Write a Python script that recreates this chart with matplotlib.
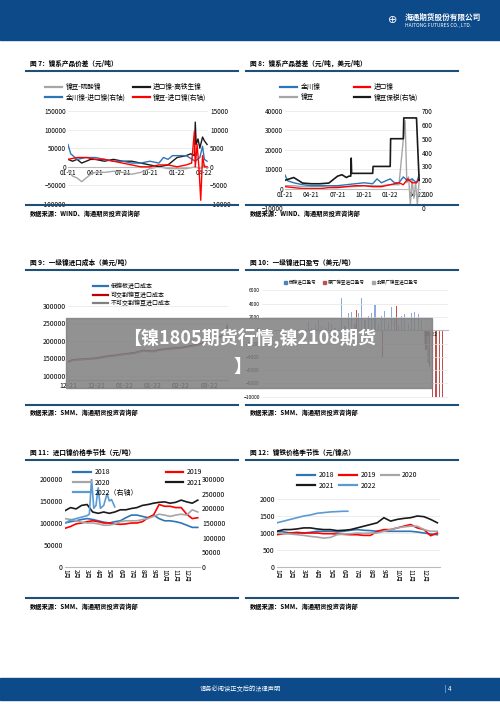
import matplotlib
matplotlib.use("Agg")
import matplotlib.pyplot as plt
from matplotlib.lines import Line2D
from matplotlib.patches import Rectangle

plt.rcParams['font.family'] = ['Noto Sans CJK SC', 'DejaVu Sans']
W, H = 500, 707
fig = plt.figure(figsize=(5, 7.07), dpi=100)
NAVY = '#1f4e79'

def box(x0, y0, x1, y1):
    return fig.add_axes([x0 / W, 1 - y1 / H, (x1 - x0) / W, (y1 - y0) / H])

def ftxt(x, y, s, **k):
    fig.text(x / W, 1 - y / H, s, **k)

def hline(x0, x1, y, lw=1.5, c=NAVY):
    fig.add_artist(Line2D([x0 / W, x1 / W], [1 - y / H, 1 - y / H], color=c, lw=lw))

def style(ax, fs=4.6):
    for s in ['top', 'right', 'left']:
        ax.spines[s].set_visible(False)
    ax.spines['bottom'].set_color('#bbbbbb')
    ax.tick_params(labelsize=fs, length=0, pad=1.5)
    ax.set_facecolor('none')

def legend(x, y, items, ncol, fs=4.5, colsp=2.0):
    n = len(items)
    nrow = -(-n // ncol)
    order = [r * ncol + c for c in range(ncol) for r in range(nrow) if r * ncol + c < n]
    items = [items[i] for i in order]
    hs = [Line2D([], [], color=c, lw=1.6) for _, c in items]
    fig.legend(hs, [n for n, _ in items], loc='upper left', bbox_to_anchor=(x / W, 1 - y / H),
               ncol=ncol, fontsize=fs, frameon=False, handlelength=2.5, columnspacing=colsp,
               handletextpad=0.5, labelspacing=0.3, borderpad=0)

# ---------------- header / footer ----------------
fig.add_artist(Rectangle((0, 1 - 40 / H), 1, 40 / H, color='#0d4a8a', transform=fig.transFigure))
ftxt(405, 17, '海通期货股份有限公司', fontsize=5.5, color='white', weight='bold', va='center')
ftxt(405, 25, 'HAITONG FUTURES CO., LTD.', fontsize=3.5, color='white', va='center')
ftxt(393, 20, '⊕', fontsize=8, color='white', va='center', ha='center', family='DejaVu Sans')
fig.add_artist(Rectangle((0, 1 - 700 / H), 1, 22 / H, color='#0d4a8a', transform=fig.transFigure))
ftxt(200, 689, '请务必阅读正文后的法律声明', fontsize=4.5, color='white', va='center')
ftxt(445, 689, '| 4', fontsize=4.5, color='white', va='center')

# ---------------- titles / source lines ----------------
titles = [(30, 63, '图 7：镍系产品价差（元/吨）'), (250, 63, '图 8：镍系产品基差（元/吨，美元/吨）'),
          (30, 262, '图 9：一级镍进口成本（美元/吨）'), (250, 262, '图 10：一级镍进口盈亏（美元/吨）'),
          (30, 452, '图 11：进口镍价格季节性（元/吨）'), (250, 452, '图 12：镍铁价格季节性（元/镍点）')]
for x, y, t in titles:
    ftxt(x, y, t, fontsize=4.8, va='center', weight='bold')
    hline(x - 4, x + 208, y + 8)
src = '数据来源：WIND、海通期货投资咨询部'
src2 = '数据来源：SMM、海通期货投资咨询部'
for x, y, s in [(30, 213, src), (250, 213, src), (30, 413, src2), (250, 413, src2), (30, 606, src2), (250, 606, src2)]:
    hline(x - 4, x + 208, y - 8)
    ftxt(x, y, s, fontsize=4.5, va='center', weight='bold')

# ---------------- Fig 7 ----------------
m7_gray = [0, 0.5, 1, 1.5, 2, 2.5, 3, 3.5, 4, 5, 6, 7, 8, 9, 10, 11, 12, 13, 14, 14.5, 15, 15.3]
v7_gray = [-10000, -25000, -30000, -40000, -30000, -20000, -15000, -15000, -15000, -12000, -15000, -20000,
           -15000, -5000, 0, -5000, -5000, -5000, 0, -5000, 5000, -5000]
m7_black = [0, 0.5, 1, 1.5, 2, 2.5, 3, 4, 5, 6, 7, 8, 9, 10, 11, 11.5, 12, 13, 13.5, 13.9, 14.0, 14.1, 14.3, 14.5, 14.8, 15, 15.3]
v7_black = [20000, 15000, 20000, 10000, 15000, 20000, 20000, 15000, 20000, 15000, 15000, 10000, 5000, 0, 5000, 15000,
            25000, 30000, 35000, 30000, 120000, 60000, 75000, 50000, 80000, 70000, 60000]
m7_blue = [0, 0.3, 1, 2, 3, 4, 5, 6, 7, 8, 9, 10, 10.5, 11, 11.5, 12, 13, 14, 14.5, 14.8, 15, 15.3]
v7_blue = [6000, 3500, 2000, 2500, 2500, 2000, 1500, 1500, 1000, 1000, 1500, 1000, 2500, 2000, 3000, 3000, 3000, 1500, 2500, 5500, 2000, 1500]
m7_red = [0, 1, 2, 3, 4, 5, 6, 7, 8, 9, 10, 11, 12, 13, 13.6, 13.9, 14.0, 14.2, 14.4, 14.6, 14.8, 15, 15.3]
v7_red = [2000, 2500, 2500, 2000, 2000, 1500, 1000, 500, 0, 0, 500, 500, 0, 500, 1000, 9500, 0, 6000, 0, -9000, 3000, 0, 0]
ax = box(68, 111, 208, 204)
style(ax)
ax.plot(m7_gray, v7_gray, color='#a6a6a6', lw=1)
ax.plot(m7_black, v7_black, color='#1a1a1a', lw=1)
ax.set_ylim(-100000, 150000); ax.set_yticks(range(-100000, 150001, 50000))
ax.grid(axis='y', color='#e6e6e6', lw=0.5)
ax.spines['bottom'].set_position(('data', 0))
ax.set_xlim(0, 15.4); ax.set_xticks([0, 3, 6, 9, 12, 15])
ax.set_xticklabels(['01-21', '04-21', '07-21', '10-21', '01-22', '04-22'])
ax2 = ax.twinx(); style(ax2); ax2.spines['bottom'].set_visible(False)
ax2.plot(m7_blue, v7_blue, color='#2e75b6', lw=1)
ax2.plot(m7_red, v7_red, color='#ff0000', lw=1)
ax2.set_ylim(-10000, 15000); ax2.set_yticks(range(-10000, 15001, 5000))
legend(42, 80, [('镍豆-硫酸镍', '#a6a6a6'), ('进口镍-高铁生镍', '#1a1a1a'),
                ('金川镍-进口镍(右轴)', '#2e75b6'), ('镍豆-进口镍(右轴)', '#ff0000')], 2, fs=4.8, colsp=1.2)

# ---------------- Fig 8 ----------------
m8_blue = [0, 0.3, 1, 2, 3, 4, 5, 6, 7, 8, 9, 10, 10.5, 11, 12, 12.5, 13, 13.5, 14, 14.5, 15, 15.3]
v8_blue = [7000, 4000, 3000, 2000, 1500, 1500, 1500, 1500, 2000, 2500, 3000, 2500, 5000, 3000, 5000, 3000, 3000, 6000, 4000, 5000, 3000, 7000]
m8_red = [0, 1, 2, 3, 4, 5, 6, 7, 8, 9, 10, 11, 12, 13, 13.5, 14, 14.5, 15, 15.3]
v8_red = [1000, 500, 0, 0, 0, 500, 500, 1000, 1500, 1500, 1000, 1000, 2000, 3000, 2000, 5000, 3000, 3000, 5000]
m8_gray = [0, 1, 2, 3, 4, 5, 6, 7, 8, 9, 10, 11, 12, 13, 13.7, 13.9, 14.1, 14.3, 14.5, 14.7, 14.9, 15.1, 15.3]
v8_gray = [1500, 1500, 1000, 1000, 1000, 1500, 1000, 1000, 1000, 1500, 1500, 1500, 2000, 2000, 35000, 3000, 6000, -8000, 5000, -5000, 3000, -8000, 4000]
m8_black = [0, 0.5, 1, 1.5, 2, 3, 4, 5, 6, 6.5, 7, 7.3, 7.5, 7.55, 7.6, 10.0, 10.05, 12.0, 12.05, 13.5, 13.55, 15.0, 15.2, 15.3]
v8_black = [200, 210, 220, 200, 180, 175, 175, 180, 230, 240, 220, 230, 230, 360, 250, 250, 300, 300, 500, 500, 650, 650, 350, 200]
ax = box(285, 111, 420, 208)
style(ax)
ax.plot(m8_gray, v8_gray, color='#a6a6a6', lw=1)
ax.plot(m8_blue, v8_blue, color='#2e75b6', lw=1)
ax.plot(m8_red, v8_red, color='#ff0000', lw=1)
ax.set_ylim(-10000, 40000); ax.set_yticks(range(-10000, 40001, 10000))
ax.grid(axis='y', color='#e6e6e6', lw=0.5)
ax.spines['bottom'].set_position(('data', 0))
ax.set_xlim(0, 15.4); ax.set_xticks([0, 3, 6, 9, 12, 15])
ax.set_xticklabels(['01-21', '04-21', '07-21', '10-21', '01-22', '04-22'])
ax2 = ax.twinx(); style(ax2); ax2.spines['bottom'].set_visible(False)
ax2.plot(m8_black, v8_black, color='#1a1a1a', lw=1.2)
ax2.set_ylim(0, 700); ax2.set_yticks(range(0, 701, 100))
legend(277, 80, [('金川镍', '#2e75b6'), ('进口镍', '#ff0000'), ('镍豆', '#a6a6a6'), ('镍豆保税(右轴)', '#1a1a1a')], 2, fs=4.8, colsp=5)

# ---------------- Fig 9 ----------------
d9 = [0, 1, 2, 4, 6, 8, 10, 12, 14, 16, 18, 20, 22, 24, 26, 28, 30, 32, 33, 34]
c9_plate = [140000, 145000, 146000, 148000, 150000, 155000, 158000, 162000, 165000, 172000, 170000, 175000,
            178000, 180000, 185000, 190000, 200000, 210000, 215000, 245000]
c9_deliv = [141000, 146000, 147000, 149000, 151000, 156000, 159000, 163000, 166000, 173000, 171000, 176000,
            179000, 181000, 186000, 191000, 201000, 211000, 216000, 246000]
c9_nondeliv = [139000, 144000, 145000, 147000, 149000, 154000, 157000, 161000, 164000, 171000, 169000, 174000,
               177000, 179000, 184000, 189000, 199000, 209000, 214000, 244000]
ax = box(68, 300, 228, 380)
style(ax, 5)
ax.plot(d9, c9_plate, color='#2e75b6', lw=1)
ax.plot(d9, c9_deliv, color='#c00000', lw=1)
ax.plot(d9, c9_nondeliv, color='#808080', lw=1)
ax.set_ylim(88000, 317000); ax.set_yticks(range(100000, 300001, 50000))
ax.grid(axis='y', color='#e6e6e6', lw=0.5)
ax.set_xlim(0, 34); ax.set_xticks([0, 6, 12, 18, 24, 30])
ax.set_xticklabels(['12-21', '12-21', '01-22', '01-22', '02-22', '03-22'])
legend(90, 280, [('俄镍板进口成本', '#2e75b6'), ('可交割镍豆进口成本', '#c00000'), ('不可交割镍豆进口成本', '#808080')], 1, fs=4.3)

# ---------------- Fig 10 ----------------
pl10_total = [200, 1200, 300, 800, 1500, 600, 400, 1300, 900, 300, 200, 4800, 600, 2600, 2700, 1000, 2600, 4900, 1500, 2200,
              2600, 3800, 900, 2200, 2900, 1100, 3500, 1800, 800, 2200, 2400, 1000, 2600, 2700, 2400, 1500, -2000, -5000]
pl10_deliv = [0, 0, 0, 0, 0, 0, 0, 0, 0, 0, 0, 0, 0, 0, 0, 3000, 0, 0, 0, 0, 0, 0, 0, -4000, 0, 0, 0, 3600, 0, 0, 0, 0, 0, 0, 0, 0,
              -3000, -5500, -10000, -10000, -10000, -10000]
ax = box(262, 287, 448, 400)
style(ax, 3.5)
xs = list(range(len(pl10_total)))
ax.bar(xs, pl10_total, width=0.35, color='#8eaadb')
ax.bar([i + 0.4 for i in range(len(pl10_deliv))], pl10_deliv, width=0.35, color='#c0504d')
ax.set_ylim(-10500, 6500); ax.set_yticks(range(-10000, 6001, 2000))
ax.grid(axis='y', color='#e6e6e6', lw=0.5)
ax.spines['bottom'].set_position(('data', 0))
ax.set_xlim(-13, 43); ax.set_xticks([-5, 38]); ax.set_xticklabels(['03/21', '03/22'])
fig.legend([Rectangle((0, 0), 1, 1, color=c) for c in ['#4f81bd', '#c0504d', '#a6a6a6']],
           ['俄镍进口盈亏', '原厂镍豆进口盈亏', '非原厂镍豆进口盈亏'], loc='upper left',
           bbox_to_anchor=(280 / W, 1 - 276 / H), ncol=3, fontsize=3.3, frameon=False,
           handlelength=0.6, handleheight=0.6, columnspacing=1.5, handletextpad=0.4)

# ---------------- Fig 11 ----------------
mo = [0, 0.5, 1, 1.5, 2, 2.5, 3, 3.5, 4, 4.5, 5, 5.5, 6, 6.5, 7, 7.5, 8, 8.5, 9, 9.5, 10, 10.5, 11, 11.5, 12]
s11_2018 = [100000, 103000, 105000, 108000, 110000, 108000, 105000, 102000, 100000, 103000, 105000, 112000, 118000, 118000,
            115000, 112000, 118000, 110000, 105000, 105000, 103000, 100000, 95000, 90000, 90000]
s11_2019 = [88000, 92000, 98000, 100000, 103000, 105000, 103000, 100000, 100000, 98000, 97000, 98000, 100000, 100000,
            103000, 112000, 118000, 142000, 138000, 138000, 135000, 135000, 120000, 110000, 112000]
s11_2020 = [110000, 108000, 105000, 102000, 100000, 100000, 98000, 95000, 95000, 98000, 103000, 105000, 105000, 105000,
            108000, 110000, 115000, 120000, 118000, 115000, 118000, 120000, 118000, 130000, 125000]
s11_2021 = [128000, 135000, 132000, 140000, 142000, 125000, 122000, 125000, 122000, 125000, 130000, 130000, 133000, 135000,
            140000, 142000, 145000, 147000, 148000, 145000, 147000, 152000, 148000, 145000, 152000]
m11_2022 = [0, 0.5, 1, 1.5, 2, 2.2, 2.4, 2.6, 2.8, 3.0, 3.2, 3.5, 3.8, 4.0, 4.2, 4.5]
s11_2022 = [150000, 160000, 165000, 170000, 175000, 180000, 300000, 200000, 210000, 270000, 200000, 210000, 250000, 225000, 230000, 205000]
ax = box(65, 479, 200, 567)
style(ax, 5)
ax.plot(mo, s11_2018, color='#2e75b6', lw=1.2)
ax.plot(mo, s11_2019, color='#ff0000', lw=1.2)
ax.plot(mo, s11_2020, color='#a6a6a6', lw=1.2)
ax.plot(mo, s11_2021, color='#1a1a1a', lw=1.2)
ax.set_ylim(0, 200000); ax.set_yticks(range(0, 200001, 50000))
ax.set_xlim(0, 12.2); ax.set_xticks(range(12))
ax.set_xticklabels([f'{i}月' for i in range(1, 13)], rotation=-90, fontsize=4.5)
ax2 = ax.twinx(); style(ax2, 5); ax2.spines['bottom'].set_visible(False)
ax2.plot(m11_2022, s11_2022, color='#5b9bd5', lw=1.2)
ax2.set_ylim(0, 300000); ax2.set_yticks(range(0, 300001, 50000))
legend(70, 465, [('2018', '#2e75b6'), ('2019', '#ff0000'), ('2020', '#a6a6a6'), ('2021', '#1a1a1a'), ('2022（右轴）', '#5b9bd5')], 2, fs=5, colsp=4)

# ---------------- Fig 12 ----------------
s12_2018 = [1050, 1030, 1000, 1000, 1000, 1020, 1050, 1050, 1050, 1030, 1050, 1080, 1100, 1080, 1070, 1050, 1050,
            1050, 1050, 1050, 1050, 1030, 1000, 970, 950]
s12_2019 = [950, 980, 1000, 1020, 1000, 1000, 1000, 980, 980, 970, 960, 950, 950, 930, 930, 1050, 1100, 1100, 1150,
            1200, 1250, 1150, 1100, 920, 1000]
s12_2020 = [1000, 980, 970, 950, 930, 900, 880, 850, 870, 950, 970, 980, 1000, 990, 1000, 1000, 1050, 1100, 1150,
            1180, 1200, 1200, 1100, 1050, 1050]
s12_2021 = [1050, 1100, 1100, 1120, 1150, 1150, 1120, 1100, 1100, 1070, 1080, 1100, 1150, 1200, 1250, 1300, 1450,
            1350, 1400, 1430, 1450, 1500, 1480, 1400, 1300]
m12_2022 = [0, 0.5, 1, 1.5, 2, 2.5, 3, 3.5, 4, 4.5, 5, 5.3]
s12_2022 = [1300, 1350, 1400, 1450, 1500, 1530, 1580, 1600, 1620, 1630, 1640, 1640]
ax = box(277, 499, 440, 567)
style(ax, 5)
ax.plot(mo, s12_2018, color='#2e75b6', lw=1.2)
ax.plot(mo, s12_2019, color='#ff0000', lw=1.2)
ax.plot(mo, s12_2020, color='#a6a6a6', lw=1.2)
ax.plot(mo, s12_2021, color='#1a1a1a', lw=1.2)
ax.plot(m12_2022, s12_2022, color='#5b9bd5', lw=1.2)
ax.set_ylim(0, 2000); ax.set_yticks(range(0, 2001, 500))
ax.grid(axis='y', color='#e6e6e6', lw=0.5)
ax.set_xlim(0, 12.2); ax.set_xticks(range(12))
ax.set_xticklabels([f'{i}月' for i in range(1, 13)], rotation=-90, fontsize=4.5)
legend(294, 468, [('2018', '#2e75b6'), ('2019', '#ff0000'), ('2020', '#a6a6a6'), ('2021', '#1a1a1a'), ('2022', '#5b9bd5')], 3, fs=5, colsp=0.8)

# ---------------- overlay title ----------------
fig.add_artist(Rectangle((66 / W, 1 - 388 / H), 366 / W, 70 / H, color='#7f7f7f', alpha=0.85,
                         transform=fig.transFigure, zorder=10))
fig.text(250 / W, 1 - 338 / H, '【镍1805期货行情,镍2108期货', fontsize=13, weight='bold', color='white',
         ha='center', va='center', zorder=11)
fig.text(243 / W, 1 - 366 / H, '】', fontsize=13, weight='bold', color='white', ha='center', va='center', zorder=11)

fig.savefig('out.png', dpi=100)
